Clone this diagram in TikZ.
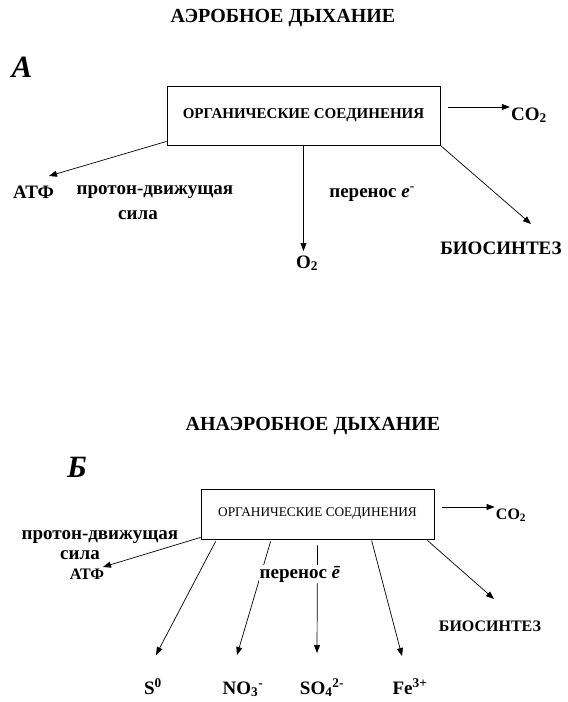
\documentclass[tikz,border=0pt]{standalone}
\usepackage{fontspec}
\setmainfont{Liberation Serif}
\usetikzlibrary{arrows.meta}

\begin{document}
\begin{tikzpicture}[x=1pt,y=-1pt,>={Triangle[length=8pt,width=6pt]},line width=.7pt,
  ttl/.style={font=\fontsize{20}{22}\bfseries},
  lett/.style={font=\fontsize{31}{33}\bfseries\itshape},
  lbl/.style={font=\fontsize{19}{21}\bfseries,inner sep=1pt},
  sml/.style={font=\fontsize{16}{18}\bfseries,inner sep=1pt},
  orgbox/.style={draw,line width=.8pt,inner sep=0pt}]
\useasboundingbox (0,0) rectangle (568,702);
\node[ttl] (ttlA) at (283,18) {АЭРОБНОЕ ДЫХАНИЕ};
\node[lett] (lA) at (22,67) {А};
\node[orgbox,minimum width=273pt,minimum height=59pt,font=\fontsize{15}{17}\bfseries] (boxA) at (303.5,115.5) {ОРГАНИЧЕСКИЕ СОЕДИНЕНИЯ};
\node[lbl,anchor=base] (co2A) at (529,120) {CO\textsubscript{2}};
\node[lbl] (atfA) at (33.5,192) {АТФ};
\node[lbl] (pdfA) at (155,192) {протон-движущая};
\node[lbl] (silA) at (138,215) {сила};
\node[lbl,anchor=base] (trA) at (372,197) {перенос \textit{e}\textsuperscript{-}};
\node[lbl,anchor=base] (o2A) at (307,268) {O\textsubscript{2}};
\node[lbl] (bioA) at (501,248) {БИОСИНТЕЗ};
\coordinate (co2At) at (448,107);
\coordinate (atfAt) at (49,176);
\coordinate (o2At) at (303.5,251);
\coordinate (bioAt) at (531,224);
\draw[->] (co2At) -- (co2At -| co2A.west);
\draw[->] ([yshift=4pt]boxA.south west) -- (atfAt);
\draw[->] (boxA.south) -- (o2At);
\draw[->] (boxA.south east) -- (bioAt);

\node[ttl] (ttlB) at (313,426) {АНАЭРОБНОЕ ДЫХАНИЕ};
\node[lett] (lB) at (77,467) {Б};
\node[orgbox,minimum width=233pt,minimum height=50pt,font=\fontsize{13.3}{15}\selectfont] (boxB) at (317.5,514) {ОРГАНИЧЕСКИЕ СОЕДИНЕНИЯ};
\node[sml,anchor=base] (co2B) at (511,519) {CO\textsubscript{2}};
\node[lbl] (pdfB) at (100,537) {протон-движущая};
\node[lbl] (silB) at (80,555) {сила};
\node[sml] (atfB) at (87,574) {АТФ};
\node[sml] (bioB) at (490,626) {БИОСИНТЕЗ};
\node[lbl,anchor=base] (s0) at (153,694) {S\textsuperscript{0}};
\node[lbl,anchor=base] (no3) at (243,694) {NO\textsubscript{3}\textsuperscript{-}};
\node[lbl,anchor=base] (so4) at (322,694) {SO\textsubscript{4}\textsuperscript{2-}};
\node[lbl,anchor=base] (fe) at (410,694) {Fe\textsuperscript{3+}};
\coordinate (co2Bt) at (442,507);
\coordinate (atfBt) at (103,567);
\coordinate (s0t) at (156,655);
\coordinate (no3t) at (237,655);
\coordinate (so4t) at (317,653);
\coordinate (fet) at (402,656);
\coordinate (bioBt) at (494,599);
\draw[->] (co2Bt) -- (co2Bt -| co2B.west);
\draw[->] ([yshift=2pt]boxB.south west) -- (atfBt);
\draw[->] ([xshift=15pt,yshift=-2pt]boxB.south west) -- (s0t);
\draw[->] ([xshift=70pt,yshift=-2pt]boxB.south west) -- (no3t);
\draw[->] ([yshift=-6pt]boxB.south) -- (so4t);
\draw[->] ([xshift=171pt,yshift=-1pt]boxB.south west) -- (fet);
\draw[->] ([xshift=-7pt,yshift=-1pt]boxB.south east) -- (bioBt);
\node[lbl,fill=white,anchor=base] (trB) at (300,578) {перенос \textit{ē}};
\end{tikzpicture}
\end{document}
